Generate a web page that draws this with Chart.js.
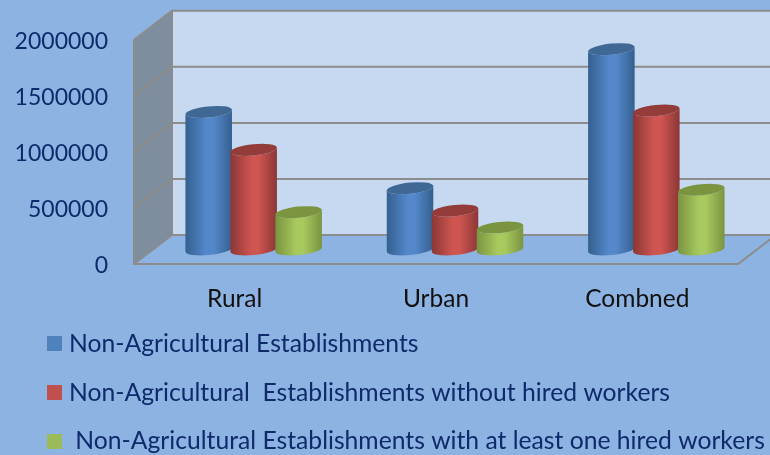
<!DOCTYPE html>
<html><head><meta charset="utf-8">
<style>html,body{margin:0;padding:0;background:#8DB3E2}canvas{display:block}</style>
<script src="https://cdn.jsdelivr.net/npm/chart.js@4"></script>
</head><body>
<div style="width:770px;height:455px;position:relative"><canvas id="c"></canvas></div>
<script>
const categories = ['Rural', 'Urban', 'Combned'];
const allEstablishments = [1227000, 547000, 1787000];
const withoutHired = [889000, 347000, 1240000];
const withHired = [333000, 196000, 533000];
const seriesNames = [
  'Non-Agricultural Establishments',
  'Non-Agricultural  Establishments without hired workers',
  ' Non-Agricultural Establishments with at least one hired workers'
];
const swatches = ['#4F81BD', '#C0504D', '#9BBB59'];
const yTicks = [0, 500000, 1000000, 1500000, 2000000];

const DX = 38, DY = 29, TILT = -0.1, RY = 5.6;
const shades = [
  {edge:'#34608f', mid:'#5488cb', cap:'#3f6895'},
  {edge:'#8a3735', mid:'#cf5551', cap:'#933c3a'},
  {edge:'#7a9440', mid:'#a8c95e', cap:'#7a9440'}
];

function swatchCanvas(color) {
  const k = document.createElement('canvas');
  k.width = 15; k.height = 15;
  const g = k.getContext('2d');
  g.fillStyle = color; g.fillRect(0, 0, 15, 15);
  return k;
}

const scene = {
  id: 'scene',
  beforeDraw(chart) {
    const c = chart.ctx;
    c.save(); c.fillStyle = '#8DB3E2'; c.fillRect(0, 0, chart.width, chart.height); c.restore();
  },
  afterLayout(chart) {
    const l = chart.legend;
    l.top = 307.6; l.left = 28.2; l.right = chart.width; l.bottom = chart.height;
    l.width = l.right - l.left; l.height = l.bottom - l.top;
  },
  beforeDatasetsDraw(chart) {
    const c = chart.ctx, a = chart.chartArea, y = chart.scales.y;
    const y0 = y.getPixelForValue(0), yM = y.getPixelForValue(yTicks[yTicks.length - 1]);
    c.save();
    c.fillStyle = '#C6D9F1';
    c.fillRect(a.left + DX, yM - DY, a.right - a.left, y0 - yM);
    c.fillStyle = '#7E8E9F';
    c.beginPath();
    c.moveTo(a.left, yM); c.lineTo(a.left + DX, yM - DY); c.lineTo(a.left + DX, y0 - DY); c.lineTo(a.left, y0);
    c.closePath(); c.fill();
    c.fillStyle = '#8DB3E2';
    c.beginPath();
    c.moveTo(a.left, y0); c.lineTo(a.right, y0); c.lineTo(a.right + DX, y0 - DY); c.lineTo(a.left + DX, y0 - DY);
    c.closePath(); c.fill();
    c.strokeStyle = '#8c8c8c'; c.lineWidth = 2;
    yTicks.forEach(v => {
      const p = y.getPixelForValue(v);
      c.beginPath();
      c.moveTo(a.left, p); c.lineTo(a.left + DX, p - DY); c.lineTo(a.right + DX, p - DY);
      c.stroke();
    });
    c.beginPath();
    c.moveTo(a.left, yM); c.lineTo(a.left, y0); c.lineTo(a.right, y0); c.lineTo(a.right + DX, y0 - DY);
    c.moveTo(a.left + DX, yM - DY); c.lineTo(a.left + DX, y0 - DY);
    c.stroke();

    chart.data.datasets.forEach((ds, i) => {
      const s = shades[i];
      chart.getDatasetMeta(i).data.forEach(el => {
        const {x, y: top, base, width} = el.getProps(['x', 'y', 'base', 'width'], true);
        const cx = x + DX / 2, rx = width / 2, t = top - DY / 2, b = base - DY / 2;
        const g = c.createLinearGradient(cx - rx, 0, cx + rx, 0);
        g.addColorStop(0, s.edge); g.addColorStop(0.45, s.mid); g.addColorStop(0.6, s.mid); g.addColorStop(1, s.edge);
        c.fillStyle = g;
        c.beginPath();
        c.ellipse(cx, t, rx, RY, TILT, Math.PI, 0, true);
        c.ellipse(cx, b, rx, RY, TILT, 0, Math.PI, false);
        c.closePath(); c.fill();
        c.fillStyle = s.cap;
        c.beginPath();
        c.ellipse(cx, t, rx, RY, TILT, 0, Math.PI * 2);
        c.fill();
      });
    });
    c.restore();
    return false;
  }
};

new Chart(document.getElementById('c'), {
  type: 'bar',
  data: {
    labels: categories,
    datasets: [
      {label: seriesNames[0], data: allEstablishments, backgroundColor: swatches[0], borderWidth: 0},
      {label: seriesNames[1], data: withoutHired, backgroundColor: swatches[1], borderWidth: 0},
      {label: seriesNames[2], data: withHired, backgroundColor: swatches[2], borderWidth: 0}
    ]
  },
  options: {
    responsive: true, maintainAspectRatio: false, animation: false,
    layout: {padding: {left: 12, right: 32, top: 39, bottom: 0}},
    datasets: {bar: {categoryPercentage: 0.67, barPercentage: 1.04}},
    plugins: {
      tooltip: {enabled: false},
      legend: {
        position: 'bottom', align: 'start', maxHeight: 143,
        labels: {
          boxHeight: 15, padding: 24, color: '#0F2A6B',
          usePointStyle: true, pointStyleWidth: 4.5,
          font: {family: 'Lato', size: 24.7},
          generateLabels: chart => chart.data.datasets.map((d, i) => ({
            text: d.label, fontColor: '#0F2A6B', pointStyle: swatchCanvas(swatches[i]),
            fillStyle: swatches[i], strokeStyle: swatches[i], lineWidth: 0, hidden: false, datasetIndex: i
          }))
        }
      }
    },
    scales: {
      x: {
        grid: {display: false, drawTicks: false}, border: {display: false},
        afterFit(s) { s.height = 48; },
        ticks: {color: '#111', padding: 20, maxRotation: 0, font: {family: 'Lato', size: 24.5}}
      },
      y: {
        min: 0, max: 2000000,
        grid: {display: false, drawTicks: false}, border: {display: false},
        afterFit(s) { s.width = 122; },
        afterBuildTicks(s) { s.ticks = yTicks.map(v => ({value: v})); },
        ticks: {color: '#0F2A6B', padding: 26, labelOffset: 2, font: {family: 'Lato', size: 23}, callback: v => String(v)}
      }
    }
  },
  plugins: [scene]
});
</script>
</body></html>
